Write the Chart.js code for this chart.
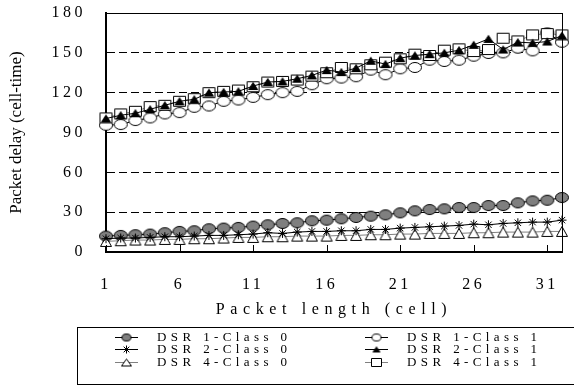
<!DOCTYPE html>
<html><head><meta charset="utf-8">
<script src="https://cdn.jsdelivr.net/npm/chart.js@4.4.1/dist/chart.umd.min.js"></script>
<style>html,body{margin:0;padding:0;background:#fff}#wrap{width:574px;height:385px}</style>
</head><body><div id="wrap"><canvas id="c" width="574" height="385"></canvas></div>
<script>
const packetLength = [1,2,3,4,5,6,7,8,9,10,11,12,13,14,15,16,17,18,19,20,21,22,23,24,25,26,27,28,29,30,31,32];
const xTickValues = [1,6,11,16,21,26,31];
const yTickValues = [0,30,60,90,120,150,180];
const yTitle = 'Packet delay (cell-time)';
const xTitle = 'Packet length (cell)';
const seriesNames = ['DSR 1-Class 0','DSR 1-Class 1','DSR 2-Class 0','DSR 2-Class 1','DSR 4-Class 0','DSR 4-Class 1'];
const dsr1Class0 = [12,12.5,13,13.5,14.5,15.5,16,17.5,18,18.5,19.5,20.5,21.5,22,23.5,24,25,26,27,28,29.5,31,32,32.5,33.5,33.5,35,35,37,38.5,39,41];
const dsr1Class1 = [95.5,96,99,101,104,105,109,110,113.5,114.5,116.5,118.5,120,121,126,130.5,131,132,137,133.5,138,139,144.5,143.5,144.5,147.5,149.5,150,153.5,151.5,165,158];
const dsr2Class0 = [10,10.5,10.5,11,11.5,11.5,12,12.5,12.5,13,13.5,14.5,14,15,15.5,15.5,16,16,17,17,18,18.5,19,19.5,20,21,20.5,21.5,22,22.5,22.5,24];
const dsr2Class1 = [100.5,103,104.5,107.5,110.5,113.5,115,120,120.5,121,125,128,128.5,130.5,133,137,135.5,138.5,144,141.5,146,148,149,150,152,156,160.5,152.5,158,157.5,158.5,163];
const dsr4Class0 = [8,8.5,9,9,9.5,9.5,10,10,10.5,11,11,11.5,11.5,12,12,12,12.5,12.5,13,13,13.5,13.5,14,14,14,14.5,14.5,15,15,15,15.5,15.5];
const dsr4Class1 = [101,104,106,109.5,110.5,113.5,115.5,120,121,122,124.5,128,128.5,129.5,132.5,135,139,138,141,143,145.5,149,148,152,153,151,152.5,161,159,163.5,164.5,163.5];

function marker(w, h, shape, fill) {
  const c = document.createElement('canvas');
  c.width = w + 2; c.height = h + 2;
  const g = c.getContext('2d');
  g.lineWidth = 1; g.strokeStyle = '#000'; g.fillStyle = fill;
  g.beginPath();
  if (shape === 'ellipse') g.ellipse((w + 2) / 2, (h + 2) / 2, w / 2 - 0.5, h / 2 - 0.5, 0, 0, Math.PI * 2);
  else if (shape === 'rect') g.rect(1.5, 1.5, w - 1, h - 1);
  else if (shape === 'tri') { g.moveTo((w + 2) / 2, 1.5); g.lineTo(w + 0.5, h + 0.5); g.lineTo(1.5, h + 0.5); g.closePath(); }
  g.fill(); g.stroke();
  return c;
}
const M = {
  grayEll: marker(14, 11, 'ellipse', '#7f7f7f'),
  openEll: marker(14, 11, 'ellipse', '#fff'),
  fillTri: marker(10, 8, 'tri', '#000'),
  openTri: marker(12, 11, 'tri', '#fff'),
  openRect: marker(13, 11, 'rect', '#fff')
};
const L = {
  grayEll: marker(10, 8, 'ellipse', '#7f7f7f'),
  openEll: marker(10, 8, 'ellipse', '#fff'),
  fillTri: marker(8, 6, 'tri', '#000'),
  openTri: marker(11, 8, 'tri', '#fff'),
  openRect: marker(11, 9, 'rect', '#fff')
};

function pts(arr) { return arr.map((v, i) => ({x: packetLength[i], y: v})); }
function ds(label, data, style, lineColor, order, extra) {
  return Object.assign({
    label, data: pts(data), order,
    borderColor: lineColor, borderWidth: 1, backgroundColor: '#fff',
    pointStyle: style, pointRadius: 6, pointBorderColor: '#000', pointBorderWidth: 1,
    pointHoverRadius: 6, tension: 0, fill: false, clip: 8
  }, extra || {});
}
const datasets = [
  ds(seriesNames[0], dsr1Class0, M.grayEll, '#000', 5),
  ds(seriesNames[1], dsr1Class1, M.openEll, '#000', 4),
  ds(seriesNames[2], dsr2Class0, 'star', '#000', 1, {pointRadius: 4.5, pointBorderColor: '#000', pointBackgroundColor: '#000'}),
  ds(seriesNames[3], dsr2Class1, M.fillTri, '#000', 0),
  ds(seriesNames[4], dsr4Class0, M.openTri, '#808080', 2),
  ds(seriesNames[5], dsr4Class1, M.openRect, '#808080', 3)
];
const legendMarks = [L.grayEll, L.openEll, 'star', L.fillTri, L.openTri, L.openRect];

const FONT = 'Liberation Serif';
const extras = {
  id: 'extras',
  beforeDraw(chart) {
    const ctx = chart.ctx;
    ctx.letterSpacing = '3.5px';
    const x = chart.scales.x;
    if (!x._wrapT) { const o = x.drawTitle; x.drawTitle = function () { ctx.letterSpacing = '5.6px'; o.apply(this, arguments); ctx.letterSpacing = '3.5px'; }; x._wrapT = true; }
  },
  afterDraw(chart) {
    const ctx = chart.ctx, x = chart.scales.x, y = chart.scales.y;
    const top = y.getPixelForValue(180), bottom = y.getPixelForValue(0);
    const left = x.getPixelForValue(1), right = x.getPixelForValue(32);
    ctx.save();
    ctx.letterSpacing = '0px';
    ctx.setLineDash([]);
    ctx.fillStyle = '#000';
    ctx.fillRect(Math.round(left), Math.round(top), Math.round(right) - Math.round(left) + 1, 1);
    ctx.fillRect(Math.round(right), Math.round(top), 1, Math.round(bottom) - Math.round(top));
    ctx.strokeStyle = '#000'; ctx.lineWidth = 1;
    ctx.beginPath();
    xTickValues.forEach(v => {
      const px = Math.round(x.getPixelForValue(v)) + 0.5;
      ctx.moveTo(px, bottom); ctx.lineTo(px, bottom - 7);
    });
    ctx.stroke();
    // y axis title
    ctx.save();
    ctx.translate(17, (top + bottom) / 2);
    ctx.rotate(-Math.PI / 2);
    ctx.letterSpacing = '0px';
    ctx.font = '17px "' + FONT + '"';
    ctx.textAlign = 'center'; ctx.textBaseline = 'middle';
    ctx.fillStyle = '#000';
    ctx.fillText(yTitle, 0, 0);
    ctx.restore();
    // legend
    ctx.strokeRect(77.5, 327.5, 600, 57);
    const cols = [[115, 138, 157], [365, 388, 407]];
    const rows = [336.5, 349, 361.5];
    ctx.font = '13px "' + FONT + '"';
    ctx.textBaseline = 'middle';
    ctx.textAlign = 'left';
    chart.data.datasets.forEach((d, i) => {
      const c = cols[i % 2], yy = rows[Math.floor(i / 2)];
      ctx.strokeStyle = d.borderColor; ctx.lineWidth = 1;
      ctx.beginPath(); ctx.moveTo(c[0], Math.round(yy) + 0.5); ctx.lineTo(c[1], Math.round(yy) + 0.5); ctx.stroke();
      ctx.strokeStyle = '#000'; ctx.fillStyle = '#000';
      Chart.helpers.drawPoint(ctx, {pointStyle: legendMarks[i], radius: 4, rotation: 0, borderWidth: 1}, (c[0] + c[1]) / 2, Math.round(yy) + 0.5);
      ctx.fillStyle = '#000';
      ctx.letterSpacing = '4.4px';
      ctx.fillText(d.label, c[2], yy + 1);
      ctx.letterSpacing = '0px';
    });
    ctx.restore();
    ctx.letterSpacing = '0px';
  }
};

function zeroPad(s) { s.paddingTop = 0; s.paddingBottom = 0; s.paddingLeft = 0; s.paddingRight = 0; }

new Chart(document.getElementById('c'), {
  type: 'line',
  data: {datasets},
  options: {
    responsive: false, devicePixelRatio: 1, animation: false,
    layout: {padding: {top: 13, right: 12, bottom: 66, left: 0}},
    plugins: {legend: {display: false}, tooltip: {enabled: false}},
    scales: {
      x: {
        type: 'linear', min: 1, max: 32,
        afterBuildTicks(s) { s.ticks = xTickValues.map(v => ({value: v})); },
        afterFit(s) { s.height = 385 - 66 - 252; zeroPad(s); },
        grid: {display: false, drawTicks: false},
        border: {display: true, color: '#000', width: 2},
        ticks: {color: '#000', padding: 23, maxRotation: 0, font: {family: FONT, size: 16}},
        title: {display: true, text: xTitle, color: '#000', padding: {top: 0, bottom: 0}, font: {family: FONT, size: 16}}
      },
      y: {
        min: 0, max: 180,
        afterBuildTicks(s) { s.ticks = yTickValues.map(v => ({value: v})); },
        afterFit(s) { s.width = 106; zeroPad(s); },
        grid: {drawTicks: false, color: c => (c.tick && (c.tick.value === 0 || c.tick.value === 180)) ? 'rgba(0,0,0,0)' : '#000', lineWidth: 1, dash: [8, 4]},
        border: {display: true, color: '#000', width: 2, dash: [8, 4]},
        ticks: {color: '#000', padding: 20, font: {family: FONT, size: 16}},
        title: {display: false}
      }
    }
  },
  plugins: [extras]
});
</script></body></html>
